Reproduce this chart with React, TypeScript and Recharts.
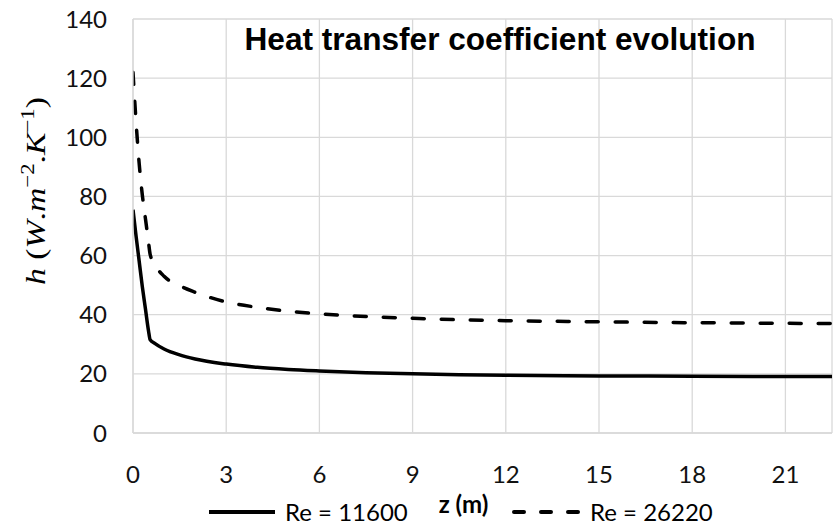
import { LineChart, Line, XAxis, YAxis, CartesianGrid, Legend } from "recharts";

// z positions (m) and heat transfer coefficient readings for both Reynolds numbers
const zValues = [0, 0.1, 0.2, 0.3, 0.4, 0.5, 0.55, 0.7, 1, 1.5, 2, 3, 4, 5, 6, 7.5, 9, 10.5, 12, 15, 18, 21, 22.5];
const hRe11600 = [75.5, 66.5, 58, 49.5, 42, 34.5, 31.6, 30.3, 28.4, 26.4, 25.0, 23.3, 22.2, 21.5, 21.0, 20.4, 20.0, 19.7, 19.5, 19.3, 19.2, 19.1, 19.1];
const hRe26220 = [122, 105, 91, 80.5, 72.5, 64.5, 60.5, 57, 53, 49.8, 47.6, 44.3, 42.5, 41.2, 40.3, 39.4, 38.8, 38.3, 38.0, 37.6, 37.3, 37.1, 37.0];
const xTicks = [0, 3, 6, 9, 12, 15, 18, 21];
const yTicks = [0, 20, 40, 60, 80, 100, 120, 140];

const data = zValues.map((z, i) => ({ z, re11600: hRe11600[i], re26220: hRe26220[i] }));

const FONT = "Lato, 'Open Sans', sans-serif";
const GRID = "#d9d9d9";

const YTitle = (props: any) => {
  const vb = props.viewBox || { x: 0, y: 0, width: 133, height: 414 };
  const cx = vb.x + 45;
  const cy = vb.y + vb.height / 2 - 35;
  return (
    <text
      x={cx}
      y={cy}
      transform={`rotate(-90, ${cx}, ${cy})`}
      textAnchor="middle"
      fontFamily="'Liberation Serif', 'DejaVu Serif', serif"
      fontSize={28}
      fill="#000"
      textLength={188}
      lengthAdjust="spacingAndGlyphs"
    >
      <tspan fontStyle="italic">h</tspan>
      <tspan> (</tspan>
      <tspan fontStyle="italic">W</tspan>
      <tspan>.</tspan>
      <tspan fontStyle="italic">m</tspan>
      <tspan dy={-11} fontSize={19}>−2</tspan>
      <tspan dy={11}>.</tspan>
      <tspan fontStyle="italic">K</tspan>
      <tspan dy={-11} fontSize={19}>−1</tspan>
      <tspan dy={11}>)</tspan>
    </text>
  );
};

const LegendContent = (props: any) => {
  const items = props.payload || [];
  return (
    <div style={{ display: "flex", paddingLeft: 207, fontFamily: FONT, fontSize: 24, lineHeight: "30px", color: "#000" }}>
      {items.map((entry: any) => {
        const dashed = entry.dataKey === "re26220";
        return (
          <div key={entry.value} style={{ width: 305, height: 30, display: "flex", alignItems: "center" }}>
            <svg width={70} height={10} style={{ marginRight: 8 }}>
              <line
                x1={2}
                y1={5}
                x2={68}
                y2={5}
                stroke="#000"
                strokeWidth={4}
                strokeLinecap={dashed ? "round" : "butt"}
                strokeDasharray={dashed ? "10 17" : undefined}
              />
            </svg>
            <span>{entry.value}</span>
          </div>
        );
      })}
    </div>
  );
};

export default function App() {
  return (
    <div style={{ position: "absolute", left: 0, top: 0, width: 833, height: 525, background: "#fff" }}>
      <LineChart width={833} height={525} data={data} margin={{ top: 19, right: 1, left: 0, bottom: 0 }}>
        <CartesianGrid stroke={GRID} strokeWidth={1.3} />
        <XAxis
          dataKey="z"
          type="number"
          domain={[0, 22.5]}
          ticks={xTicks}
          allowDataOverflow
          height={92}
          tickLine={false}
          tickMargin={27}
          axisLine={{ stroke: GRID, strokeWidth: 1.3 }}
          tick={{ fontSize: 24, fill: "#111", fontFamily: FONT }}
          label={{
            value: "z (m)",
            position: "insideBottom",
            offset: 12,
            dx: -19,
            style: { fontSize: 24, fontWeight: 700, fill: "#000", fontFamily: FONT },
          }}
        />
        <YAxis
          type="number"
          domain={[0, 140]}
          ticks={yTicks}
          width={133}
          tickLine={false}
          tickMargin={20}
          axisLine={{ stroke: GRID, strokeWidth: 1.3 }}
          tick={{ fontSize: 24, fill: "#111", fontFamily: FONT }}
          label={(p: any) => <YTitle {...p} />}
        />
        <Legend
          layout="horizontal"
          verticalAlign="middle"
          align="center"
          wrapperStyle={{ left: 0, top: 497, width: 833, height: 30 }}
          content={LegendContent}
        />
        <Line
          type="monotone"
          dataKey="re11600"
          name="Re = 11600"
          stroke="#000"
          strokeWidth={3.5}
          dot={false}
          isAnimationActive={false}
        />
        <Line
          type="monotone"
          dataKey="re26220"
          name="Re = 26220"
          stroke="#000"
          strokeWidth={3.5}
          strokeDasharray="12 17"
          strokeLinecap="round"
          dot={false}
          isAnimationActive={false}
        />
        <text
          x={500}
          y={50}
          textAnchor="middle"
          fontFamily="'Liberation Sans', Arial, sans-serif"
          fontWeight={700}
          fontSize={31}
          fill="#000"
          textLength={511}
          lengthAdjust="spacingAndGlyphs"
        >
          Heat transfer coefficient evolution
        </text>
      </LineChart>
    </div>
  );
}
